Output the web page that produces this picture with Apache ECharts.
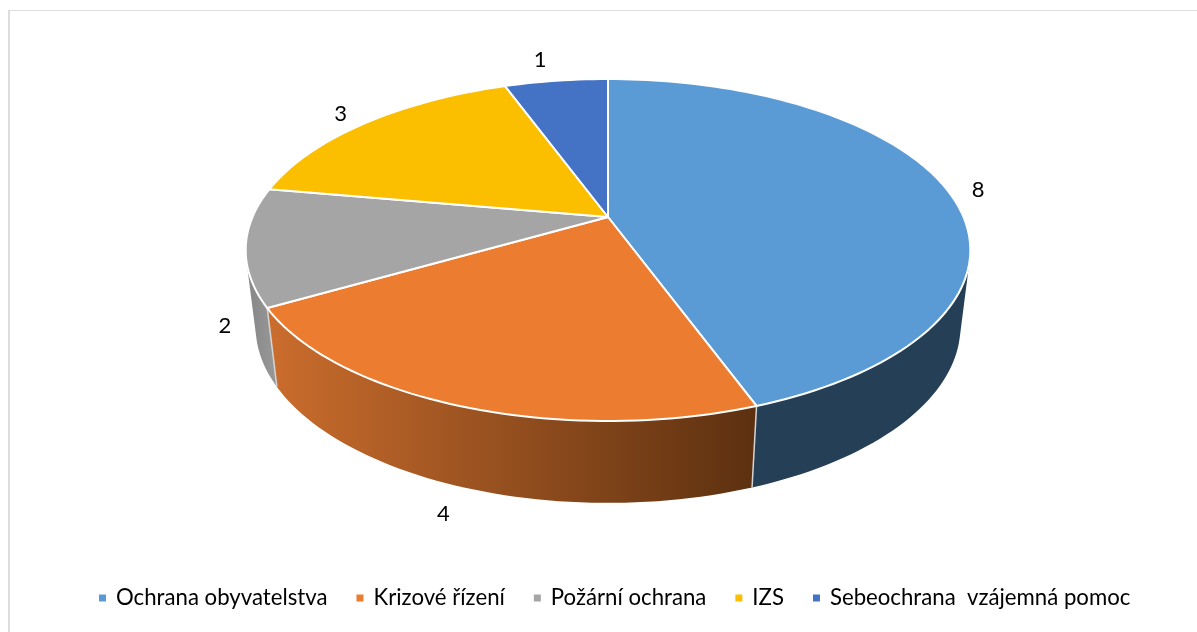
<!DOCTYPE html>
<html>
<head>
<meta charset="utf-8">
<style>html,body{margin:0;padding:0;background:#fff}#c{width:1197px;height:632px}</style>
<script src="https://cdn.jsdelivr.net/npm/echarts@6/dist/echarts.min.js"></script>
</head>
<body>
<div id="c"></div>
<script>
const categories = ['Ochrana obyvatelstva', 'Krizové řízení', 'Požární ochrana', 'IZS', 'Sebeochrana  vzájemná pomoc'];
const values = [8, 4, 2, 3, 1];
const faceColors = ['#5B9BD5', '#EC7C30', '#A5A5A5', '#FBBF00', '#4472C4'];
const wallStops = [
  ['#243F56', '#243F56'],
  ['#CB6D2D', '#5C3010'],
  ['#858585', '#9A9A9A'],
  ['#997300', '#997300'],
  ['#2A4478', '#2A4478']
];
const labelOffsets = [[31.5, 1], [-16, 108], [-21, 79], [-25, -9], [-16, -21]];

const topDisc = { cx: 608, cy: 217, a: 355.5, b: 164.6, k: 0.193 };
const baseDisc = { cx: 608, cy: 293, a: 346, b: 170, k: 0.19 };
const total = values.reduce((s, v) => s + v, 0);

function project(d, deg) {
  const t = deg * Math.PI / 180, u = Math.sin(t), v = Math.cos(t), w = 1 + d.k * v;
  return [d.cx + d.a * u / w, d.cy - d.b * v / w];
}
function arc(d, a0, a1) {
  const n = Math.max(2, Math.ceil(Math.abs(a1 - a0) / 1.5)), pts = [];
  for (let i = 0; i <= n; i++) pts.push(project(d, a0 + (a1 - a0) * i / n));
  return pts;
}
function toPath(pts) {
  return pts.map((p, i) => (i ? 'L' : 'M') + p[0].toFixed(2) + ' ' + p[1].toFixed(2)).join(' ') + ' Z';
}
function wallPath(a0, a1) {
  const t = arc(topDisc, a0, a1), b = arc(baseDisc, a0, a1);
  let out = '';
  for (let i = 0; i < t.length - 1; i++) {
    let q = [t[i], t[i + 1], b[i + 1], b[i]], area = 0;
    q.forEach((p, j) => { const r = q[(j + 1) % 4]; area += p[0] * r[1] - r[0] * p[1]; });
    if (area < 0) q = q.reverse();
    out += toPath(q) + ' ';
  }
  return out;
}

const series = categories.map((name, idx) => {
  const start = values.slice(0, idx).reduce((s, v) => s + v, 0);
  return {
    type: 'custom',
    name,
    coordinateSystem: 'none',
    silent: true,
    animation: false,
    itemStyle: { color: faceColors[idx] },
    data: [{ name, value: [values[idx]] }],
    renderItem: function (params, api) {
      const a0 = start / total * 360;
      const a1 = (start + api.value(0)) / total * 360;
      const mid = (a0 + a1) / 2;
      const rim = project(topDisc, mid);
      const face = [[topDisc.cx, topDisc.cy]].concat(arc(topDisc, a0, a1));
      const children = [{
        type: 'path', z2: 1,
        shape: { pathData: wallPath(a0, a1) },
        style: { fill: new echarts.graphic.LinearGradient(0, 0, 1, 0, [
          { offset: 0, color: wallStops[idx][0] }, { offset: 1, color: wallStops[idx][1] }
        ]) }
      }, {
        type: 'polyline', z2: 2,
        shape: { points: [project(topDisc, a0), project(baseDisc, a0)] },
        style: { fill: null, stroke: a0 > 90 && a0 < 270 ? '#D4D4D4' : 'rgba(0,0,0,0)', lineWidth: 1.5 }
      }, {
        type: 'path', z2: 3,
        shape: { pathData: toPath(face) },
        style: { fill: faceColors[idx], stroke: '#FFFFFF', lineWidth: 2, lineJoin: 'round' }
      }, {
        type: 'text', z2: 4,
        style: {
          x: rim[0] + labelOffsets[idx][0],
          y: rim[1] + labelOffsets[idx][1],
          text: String(api.value(0)),
          fill: '#000000',
          font: '22px Lato',
          align: 'center',
          verticalAlign: 'middle'
        }
      }];
      return { type: 'group', children };
    }
  };
});

const chart = echarts.init(document.getElementById('c'), null, { renderer: 'canvas' });
chart.setOption({
  animation: false,
  backgroundColor: '#FFFFFF',
  legend: {
    data: categories,
    left: 94,
    top: 582,
    icon: 'rect',
    itemWidth: 7,
    itemHeight: 7,
    itemGap: 29,
    padding: 5,
    selectedMode: false,
    textStyle: { fontFamily: 'Lato', fontSize: 22.2, color: '#000000', padding: [0, 0, 0, 5] }
  },
  graphic: [
    { type: 'line', silent: true, shape: { x1: 8.5, y1: 10.5, x2: 1197, y2: 10.5 }, style: { stroke: '#DDDDDD', lineWidth: 1 } },
    { type: 'line', silent: true, shape: { x1: 9, y1: 10, x2: 9, y2: 632 }, style: { stroke: '#DDDDDD', lineWidth: 2 } }
  ],
  series
});
</script>
</body>
</html>
